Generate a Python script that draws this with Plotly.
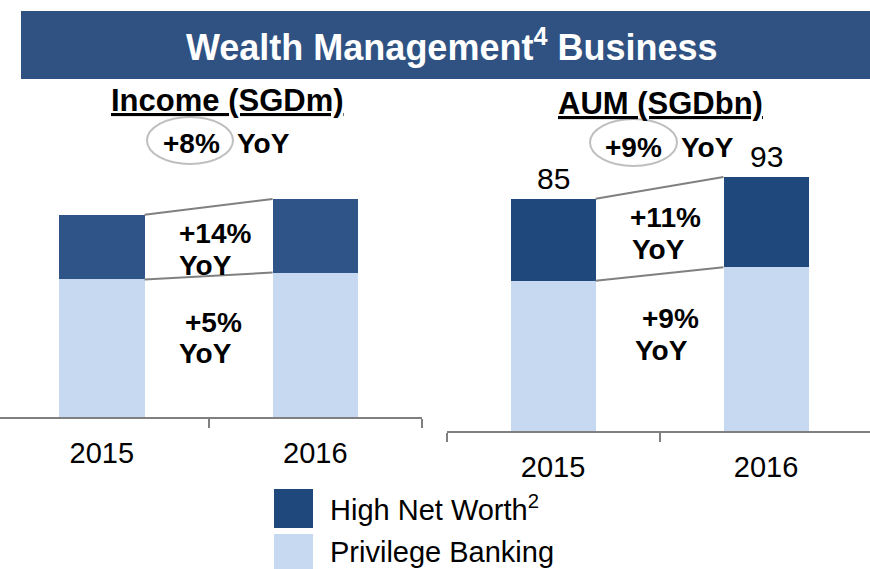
import plotly.graph_objects as go

# ---- data ----
years = ["2015", "2016"]
income_privilege = [1000, 1050]      # SGDm
income_hnw = [470, 535]              # SGDm
aum_privilege = [55, 60]             # SGDbn
aum_hnw = [30, 33]                   # SGDbn
aum_total = [p + h for p, h in zip(aum_privilege, aum_hnw)]
income_total = [p + h for p, h in zip(income_privilege, income_hnw)]

W, H = 870, 569
FONT = "Arial, Liberation Sans, sans-serif"
LIGHT = "#C6D9F1"
DARK_L = "#2F5487"
DARK_R = "#1F497D"
BANNER = "#2F5283"
GREY = "#808080"
BAR_W = 0.4


def px(x):
    return x / W


def py(y):
    return 1 - y / H


fig = go.Figure()

# Income stacks (left panel)
fig.add_trace(go.Bar(x=years, y=income_privilege, marker=dict(color=LIGHT, line=dict(width=0)),
                     width=BAR_W, xaxis="x", yaxis="y", showlegend=False, name="Privilege Banking"))
fig.add_trace(go.Bar(x=years, y=income_hnw, marker=dict(color=DARK_L, line=dict(width=0)),
                     width=BAR_W, xaxis="x", yaxis="y", showlegend=False, name="High Net Worth"))
# AUM stacks (right panel)
fig.add_trace(go.Bar(x=years, y=aum_privilege, marker=dict(color=LIGHT, line=dict(width=0)),
                     width=BAR_W, xaxis="x2", yaxis="y2", showlegend=False, name="Privilege Banking"))
fig.add_trace(go.Bar(x=years, y=aum_hnw, marker=dict(color=DARK_R, line=dict(width=0)),
                     width=BAR_W, xaxis="x2", yaxis="y2", showlegend=False, name="High Net Worth"))

shapes = []
# title banner
shapes.append(dict(type="rect", xref="paper", yref="paper", x0=px(21), x1=1.01, y0=py(79), y1=py(11),
                   fillcolor=BANNER, line=dict(width=0), layer="below"))

# connector lines between stacks
half = BAR_W / 2
for xr, yr, lower, total in (("x", "y", income_privilege, income_total),
                             ("x2", "y2", aum_privilege, aum_total)):
    for series in (total, lower):
        shapes.append(dict(type="line", xref=xr, yref=yr, x0=0 + half, x1=1 - half,
                           y0=series[0], y1=series[1], line=dict(color=GREY, width=2)))

# ellipses around headline growth figures
shapes.append(dict(type="circle", xref="paper", yref="paper", x0=px(147), x1=px(233),
                   y0=py(164), y1=py(117), line=dict(color="#BFBFBF", width=2)))
shapes.append(dict(type="circle", xref="paper", yref="paper", x0=px(590), x1=px(677),
                   y0=py(166), y1=py(119), line=dict(color="#BFBFBF", width=2)))

# legend swatches
shapes.append(dict(type="rect", xref="paper", yref="paper", x0=px(274), x1=px(313),
                   y0=py(528), y1=py(489), fillcolor=DARK_R, line=dict(width=0)))
shapes.append(dict(type="rect", xref="paper", yref="paper", x0=px(274), x1=px(313),
                   y0=py(572), y1=py(534), fillcolor=LIGHT, line=dict(width=0)))

ann = []


def text(x, y, s, size, bold=False, color="black", xanchor="center"):
    ann.append(dict(xref="paper", yref="paper", x=px(x), y=py(y), text=f"<b>{s}</b>" if bold else s,
                    showarrow=False, xanchor=xanchor, yanchor="middle",
                    font=dict(family=FONT, size=size, color=color)))


text(452, 45, "Wealth Management<sup>4</sup> Business", 36, bold=True, color="white")
text(227, 100, "<u>Income (SGDm)</u>", 31, bold=True)
text(660, 103, "<u>AUM (SGDbn)</u>", 31, bold=True)

text(191, 143, "+8%", 28, bold=True)
text(263, 143, "YoY", 28, bold=True)
text(633, 147, "+9%", 28, bold=True)
text(707, 147, "YoY", 28, bold=True)

text(177, 233, "+14%", 28, bold=True, xanchor="left")
text(177, 265, "YoY", 28, bold=True, xanchor="left")
text(183, 322, "+5%", 28, bold=True, xanchor="left")
text(177, 353, "YoY", 28, bold=True, xanchor="left")

text(628, 217, "+11%", 28, bold=True, xanchor="left")
text(630, 250, "YoY", 28, bold=True, xanchor="left")
text(640, 318, "+9%", 28, bold=True, xanchor="left")
text(633, 350, "YoY", 28, bold=True, xanchor="left")

text(328, 508, "High Net Worth<sup>2</sup>", 29, xanchor="left")
text(328, 552, "Privilege Banking", 29, xanchor="left")

# AUM totals above the stacks (category axes take the category index)
for i, tot in enumerate(aum_total):
    ann.append(dict(xref="x2", yref="y2", x=i, y=tot, text=str(tot), showarrow=False,
                    xanchor="center", yanchor="bottom", yshift=2,
                    font=dict(family=FONT, size=30, color="black")))

xcommon = dict(type="category", showline=True, linecolor=GREY, linewidth=2, ticks="outside",
               tickson="boundaries", ticklen=9, tickcolor=GREY, tickwidth=2, showgrid=False,
               zeroline=False, tickfont=dict(family=FONT, size=29, color="black"),
               ticklabelstandoff=9, fixedrange=True)

fig.update_layout(
    width=W, height=H, margin=dict(l=0, r=0, t=0, b=0),
    paper_bgcolor="white", plot_bgcolor="white", barmode="stack", bargap=0,
    xaxis=dict(domain=[0, px(422)], range=[-0.477, 1.5], anchor="y", **xcommon),
    yaxis=dict(domain=[py(417), py(100)], range=[0, 2305], visible=False),
    xaxis2=dict(domain=[px(446.5), 1], range=[-0.5, 1.488], anchor="y2", **xcommon),
    yaxis2=dict(domain=[py(431), py(100)], range=[0, 121.2], visible=False),
    shapes=shapes, annotations=ann,
)

fig.write_html("out.html")
